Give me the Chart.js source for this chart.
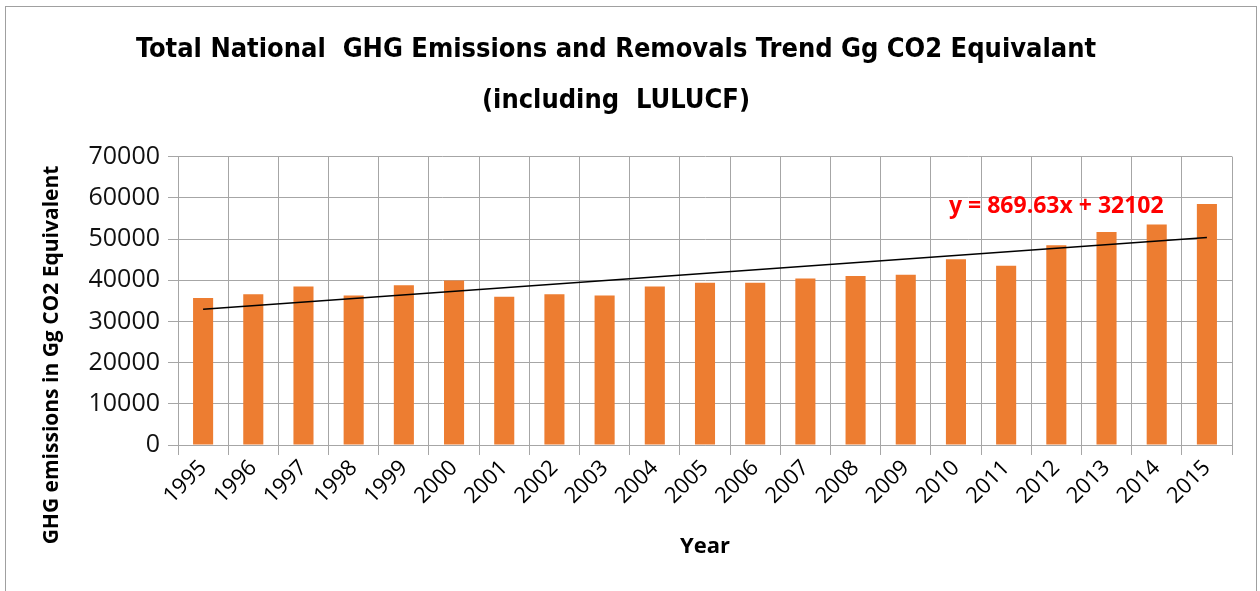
<!DOCTYPE html>
<html>
<head>
<meta charset="utf-8">
<script src="https://cdn.jsdelivr.net/npm/chart.js@4/dist/chart.umd.min.js"></script>
<style>
  html, body { margin: 0; padding: 0; background: #fff; }
  #wrap { position: relative; width: 1260px; height: 591px; }
  #frame { position: absolute; left: 5px; top: 6px; width: 1252px; height: 600px; border: 1px solid #a0a0a0; box-sizing: border-box; pointer-events: none; }
</style>
</head>
<body>
<div id="wrap">
  <canvas id="c" width="1260" height="591"></canvas>
  <div id="frame"></div>
</div>
<script>
const years = ['1995','1996','1997','1998','1999','2000','2001','2002','2003','2004','2005','2006','2007','2008','2009','2010','2011','2012','2013','2014','2015'];
const emissions = [35700, 36600, 38500, 36300, 38800, 39900, 36000, 36600, 36300, 38500, 39400, 39400, 40400, 41000, 41300, 45100, 43500, 48500, 51700, 53500, 58500];
const trendline = [32972, null, null, null, null, null, null, null, null, null, null, null, null, null, null, null, null, null, null, null, 50364];
const yTicks = [0, 10000, 20000, 30000, 40000, 50000, 60000, 70000];
const titleLines = ['Total National  GHG Emissions and Removals Trend Gg CO2 Equivalant', '(including  LULUCF)'];
const yTitle = 'GHG emissions in Gg CO2 Equivalent';
const xTitle = 'Year';
const equation = 'y = 869.63x + 32102';
const equationAnchor = { x: '2012', y: 58000 };

const gridColor = '#a6a6a6';

const extraText = {
  id: 'extraText',
  afterDraw(chart) {
    const ctx = chart.ctx;
    const xs = chart.scales.x, ys = chart.scales.y;
    ctx.save();
    ctx.fillStyle = '#ff0000';
    ctx.font = 'bold 23px "Open Sans"';
    ctx.textAlign = 'center';
    ctx.textBaseline = 'middle';
    ctx.fillText(equation, xs.getPixelForValue(years.indexOf(equationAnchor.x)), ys.getPixelForValue(equationAnchor.y));
    ctx.fillStyle = '#000';
    ctx.font = 'bold 21px "Open Sans"';
    ctx.translate(52, 355);
    ctx.rotate(-Math.PI / 2);
    ctx.fillText(yTitle, 0, 0);
    ctx.restore();
  }
};

new Chart(document.getElementById('c'), {
  type: 'bar',
  data: {
    labels: years,
    datasets: [
      {
        type: 'line',
        data: trendline,
        borderColor: '#000',
        borderWidth: 1.5,
        pointRadius: 0,
        spanGaps: true,
        fill: false,
        order: 0
      },
      {
        data: emissions,
        backgroundColor: '#ED7D31',
        categoryPercentage: 0.8,
        barPercentage: 0.5,
        order: 1
      }
    ]
  },
  options: {
    responsive: false,
    animation: false,
    devicePixelRatio: 1,
    layout: { padding: { left: 0, right: 28, top: 24, bottom: 27 } },
    plugins: {
      legend: { display: false },
      tooltip: { enabled: false },
      title: {
        display: true,
        text: titleLines,
        color: '#000',
        font: { family: '"Liberation Sans Narrow", "DejaVu Sans Condensed", sans-serif', weight: 'bold', size: 27, lineHeight: 1.9 },
        padding: { top: 0, bottom: 30 }
      }
    },
    scales: {
      x: {
        grid: { color: gridColor, lineWidth: 1, offset: true, tickLength: 10, drawTicks: true },
        border: { color: gridColor },
        ticks: { color: '#000', font: { family: '"Open Sans"', size: 22 }, maxRotation: 45, minRotation: 45, padding: 0, autoSkip: false },
        title: { display: true, text: xTitle, color: '#000', font: { family: '"Open Sans"', weight: 'bold', size: 22 }, padding: 4 },
        afterFit(scale) { scale.height = 591 - 445 - 27; }
      },
      y: {
        min: 0, max: 70000,
        afterBuildTicks(scale) { scale.ticks = yTicks.map(v => ({ value: v })); },
        grid: { color: gridColor, lineWidth: 1, tickLength: 10 },
        border: { color: gridColor },
        ticks: { color: '#111', font: { family: '"Open Sans"', size: 25 }, padding: 8, callback: (v) => String(v) },
        afterFit(scale) { scale.width = 178; }
      }
    }
  },
  plugins: [extraText]
});
</script>
</body>
</html>
